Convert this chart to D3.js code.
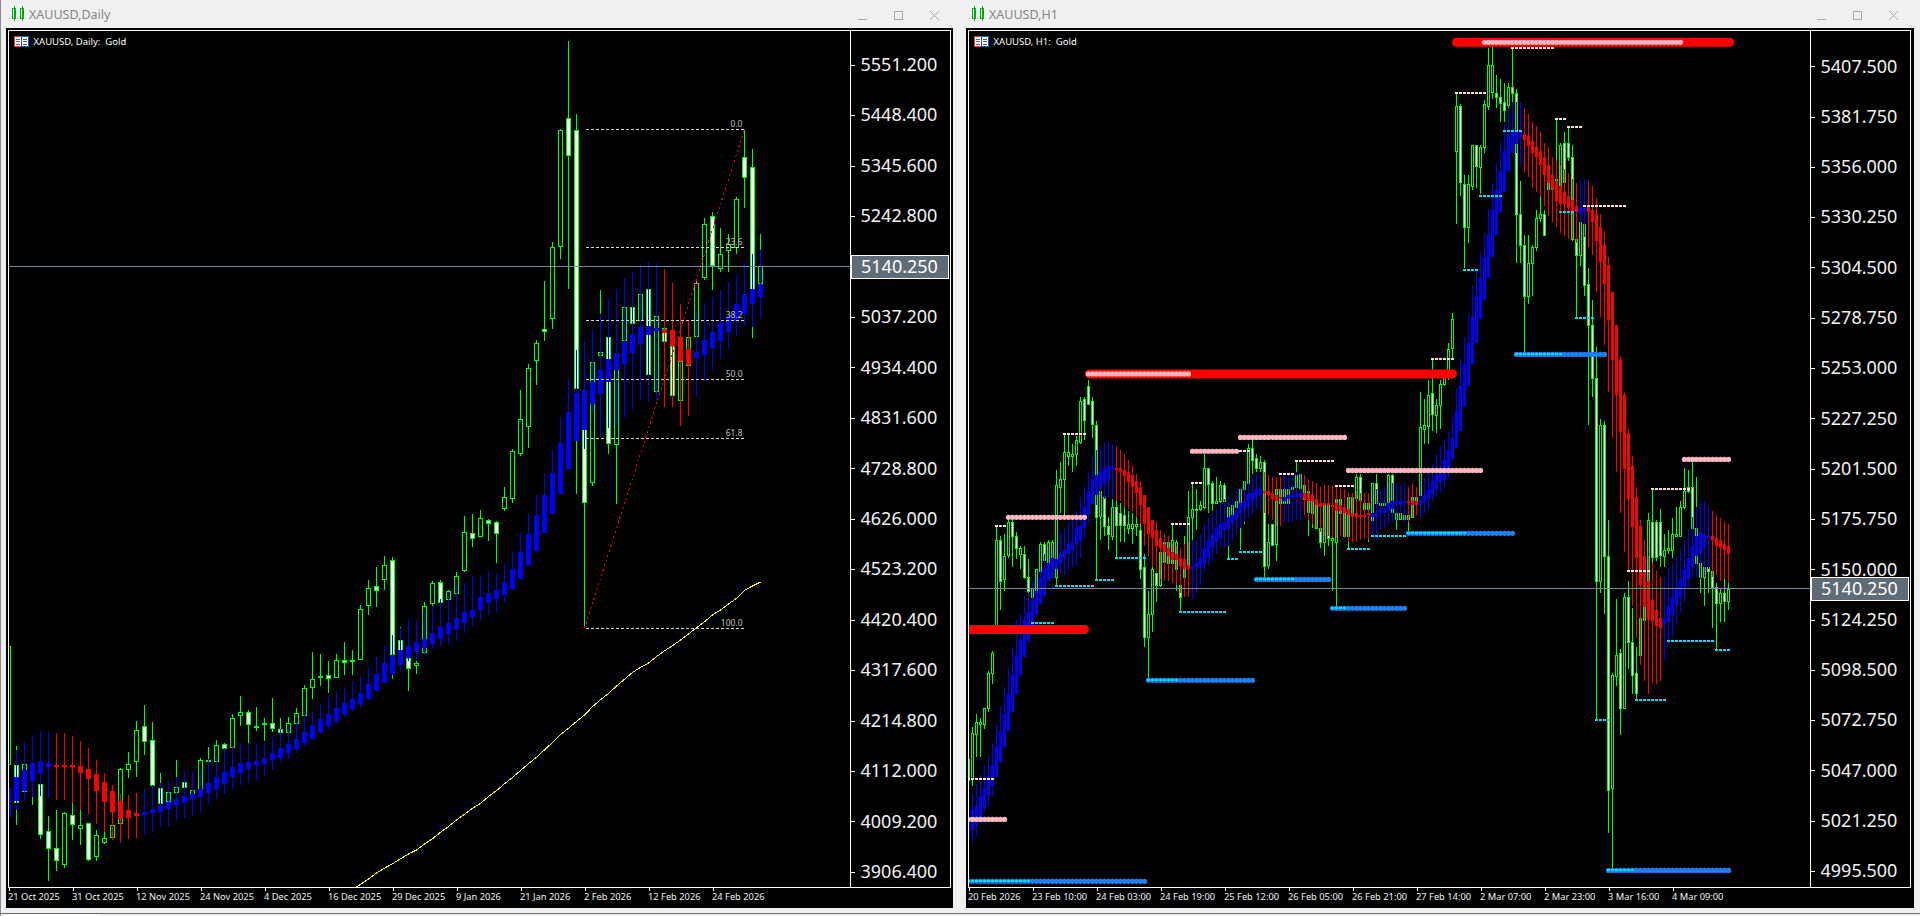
<!DOCTYPE html>
<html><head><meta charset="utf-8">
<script src="https://cdn.jsdelivr.net/npm/d3@7/dist/d3.min.js"></script>
<style>
html,body{margin:0;padding:0;background:#f0f0f0;overflow:hidden}
svg{display:block}
text{font-family:"Noto Sans",sans-serif;white-space:pre}
</style></head><body>
<svg id="c" width="1920" height="916"></svg>
<script>
// Each row: [open, high, low, close]
const dailyCandles=[[4126,4367,4126,4367],[4124,4163,4002,4048],[4072,4129,4068,4126],[4109,4129,4043,4095],[4085,4095,3973,3983],[3989,4021,3887,3955],[3956,4033,3909,3932],[3922,4029,3915,4026],[4022,4046,3972,4004],[3995,4033,3962,4002],
[4006,4007,3929,3932],[3938,3991,3929,3981],[3968,3988,3964,3976],[3978,4004,3972,4002],[4006,4119,3966,4116],[4117,4151,4097,4127],[4131,4214,4099,4195],[4203,4247,4145,4173],[4176,4212,4075,4085],[4077,4107,4044,4046],
[4050,4092,3999,4069],[4069,4135,4068,4079],[4089,4112,4075,4078],[4065,4078,4058,4073],[4075,4139,4068,4134],[4132,4161,4102,4134],[4133,4175,4129,4165],[4166,4169,4156,4158],[4160,4228,4156,4220],[4226,4265,4204,4233],
[4232,4237,4170,4207],[4203,4243,4194,4204],[4207,4220,4173,4209],[4209,4260,4192,4198],[4198,4220,4184,4191],[4190,4221,4189,4209],[4209,4240,4207,4230],[4227,4287,4223,4281],[4282,4355,4258,4299],[4303,4351,4285,4305],
[4308,4336,4270,4302],[4304,4350,4301,4338],[4339,4375,4307,4334],[4336,4359,4307,4338],[4341,4450,4340,4443],[4449,4501,4430,4484],[4488,4527,4447,4480],[4502,4550,4481,4531],[4541,4547,4300,4350],[4379,4406,4331,4338],
[4342,4345,4274,4321],[4327,4340,4310,4331],[4355,4456,4353,4449],[4453,4499,4438,4494],[4498,4501,4450,4457],[4461,4481,4447,4478],[4475,4517,4469,4509],[4520,4631,4518,4598],[4596,4636,4568,4585],[4591,4644,4589,4627],
[4623,4625,4581,4616],[4619,4621,4536,4596],[4648,4690,4642,4670],[4667,4768,4658,4763],[4760,4888,4754,4830],[4815,4941,4771,4934],[4951,4990,4898,4985],[5013,5110,4989,5008],[5034,5189,5013,5179],[5181,5419,5155,5417],
[5443,5599,5095,5368],[5417,5450,4676,4892],[4831,4834,4404,4659],[4702,4946,4693,4946],[4958,5092,4949,4965],[4996,5004,4758,4780],[4778,4956,4655,4949],[4989,5078,4970,5057],[5057,5072,5017,5024],[5031,5099,5010,5083],
[5095,5105,4915,4922],[4888,5044,4868,5040],[5015,5031,4983,4989],[4977,5004,4868,4878],[4868,4963,4864,4947],[4939,5004,4929,4996],[5000,5112,4963,5107],[5118,5238,5112,5226],[5243,5250,5092,5144],[5136,5218,5128,5165],
[5173,5206,5129,5185],[5180,5281,5165,5277],[5362,5417,5260,5321],[5343,5379,4995,5092],[5105,5206,5099,5140]];
const dailySmoothed=[[4019,4109,3993,4078],[4050,4154,4033,4099],[4072,4173,4050,4114],[4092,4186,4059,4128],[4108,4194,4061,4133],[4120,4192,4056,4128],[4124,4190,4053,4123],[4124,4190,4053,4123],[4124,4184,4046,4119],[4122,4173,4033,4108],
[4116,4159,4025,4095],[4106,4135,4005,4072],[4090,4107,3988,4050],[4072,4084,3972,4029],[4050,4065,3966,4014],[4033,4063,3974,4017],[4027,4067,3976,4021],[4023,4076,3982,4029],[4025,4083,3987,4034],[4029,4087,3997,4041],
[4035,4092,4000,4049],[4042,4100,4013,4055],[4047,4112,4017,4061],[4054,4110,4021,4065],[4059,4117,4029,4075],[4066,4136,4042,4087],[4075,4144,4054,4099],[4086,4158,4066,4110],[4099,4163,4076,4120],[4108,4167,4084,4128],
[4116,4170,4088,4131],[4123,4170,4092,4132],[4127,4170,4102,4139],[4133,4182,4115,4148],[4139,4197,4129,4159],[4149,4204,4137,4167],[4157,4214,4148,4177],[4168,4234,4160,4191],[4177,4234,4175,4206],[4190,4248,4187,4217],
[4204,4262,4197,4228],[4214,4273,4207,4240],[4226,4283,4221,4250],[4238,4296,4234,4258],[4247,4306,4241,4270],[4259,4324,4257,4289],[4274,4344,4272,4309],[4292,4367,4291,4332],[4310,4389,4308,4349],[4328,4404,4316,4359],
[4342,4421,4336,4367],[4355,4420,4336,4375],[4362,4435,4348,4381],[4371,4448,4360,4393],[4381,4462,4367,4405],[4392,4476,4368,4414],[4402,4492,4377,4424],[4412,4496,4393,4435],[4426,4509,4408,4440],[4440,4511,4420,4466],
[4453,4520,4429,4474],[4463,4515,4433,4481],[4471,4535,4457,4497],[4483,4560,4481,4523],[4502,4597,4501,4558],[4531,4636,4530,4595],[4560,4674,4559,4633],[4597,4717,4596,4674],[4636,4766,4636,4719],[4677,4833,4677,4780],
[4727,4910,4727,4844],[4784,4970,4784,4882],[4807,4987,4769,4888],[4860,5013,4841,4905],[4881,5044,4795,4929],[4905,5073,4810,4951],[4928,5093,4810,4963],[4943,5116,4834,4987],[4964,5129,4849,5002],[4982,5143,4868,5016],
[5000,5150,4864,5019],[5008,5146,4868,5015],[5013,5135,4854,5005],[5010,5107,4853,4978],[4996,5063,4815,4947],[4971,5031,4835,4939],[4954,5050,4877,4966],[4960,5066,4907,4990],[4974,5078,4926,5006],[4988,5091,4951,5024],
[5006,5109,4973,5038],[5027,5122,4998,5063],[5044,5146,5019,5084],[5064,5165,5017,5094],[5078,5173,5033,5105]];
// 200-day average, first value belongs to bar 43
const dailyAverageStart=43;
const dailyAverage=[3871,3881,3892,3904,3914,3923,3933,3943,3951,3963,3974,3987,3999,4012,4024,4036,4046,4060,4072,4086,4099,4113,4127,4140,4155,4170,4186,4199,4213,4226,4243,4257,4270,4285,4299,4313,4323,4332,4345,4357,4367,4379,4391,4404,4416,4430,4440,4452,4464,4480,4489,4497];
const fibLevels=[0,23.6,38.2,50,61.8,100];
const fibHigh=5419, fibLow=4403, fibBarLow=72, fibBarHigh=92;
const dailyPriceTicks=[5551.2,5448.4,5345.6,5242.8,5037.2,4934.4,4831.6,4728.8,4626,4523.2,4420.4,4317.6,4214.8,4112,4009.2,3906.4];
const dailyTimeLabels=["21 Oct 2025","31 Oct 2025","12 Nov 2025","24 Nov 2025","4 Dec 2025","16 Dec 2025","29 Dec 2025","9 Jan 2026","21 Jan 2026","2 Feb 2026","12 Feb 2026","24 Feb 2026"];
const hourlyPriceTicks=[5407.5,5381.75,5356,5330.25,5304.5,5278.75,5253,5227.25,5201.5,5175.75,5150,5124.25,5098.5,5072.75,5047,5021.25,4995.5];
const hourlyTimeLabels=["20 Feb 2026","23 Feb 10:00","24 Feb 03:00","24 Feb 19:00","25 Feb 12:00","26 Feb 05:00","26 Feb 21:00","27 Feb 14:00","2 Mar 07:00","2 Mar 23:00","3 Mar 16:00","4 Mar 09:00"];
const lastPrice=5140.25;
const hourlyCandles=[[5042,5053,5042,5053],[5043,5069,5039,5066],[5066,5076,5054,5072],[5071,5074,5054,5072],[5071,5079,5068,5079],[5079,5098,5077,5097],[5097,5108,5091,5107],[5121,5172,5121,5165],[5165,5167,5129,5144],[5145,5168,5139,5157],
[5157,5175,5156,5174],[5174,5176,5151,5167],[5167,5169,5155,5161],[5158,5162,5150,5161],[5158,5162,5145,5146],[5146,5155,5136,5139],[5136,5144,5136,5140],[5136,5150,5133,5150],[5149,5164,5148,5163],[5163,5164,5150,5155],
[5150,5165,5146,5164],[5151,5165,5146,5164],[5146,5201,5141,5193],[5192,5205,5179,5196],[5196,5219,5178,5210],[5208,5219,5203,5210],[5208,5214,5200,5209],[5209,5218,5203,5216],[5215,5238,5214,5236],[5237,5238,5216,5226],
[5244,5247,5234,5235],[5236,5238,5217,5224],[5224,5226,5145,5177],[5177,5200,5165,5190],[5187,5190,5167,5172],[5172,5177,5160,5168],[5167,5186,5165,5182],[5182,5185,5156,5173],[5179,5184,5164,5173],[5178,5183,5164,5173],
[5171,5180,5168,5173],[5171,5179,5163,5173],[5172,5179,5167,5173],[5170,5173,5145,5150],[5151,5158,5110,5115],[5115,5139,5094,5127],[5127,5151,5118,5150],[5148,5159,5133,5142],[5142,5164,5141,5159],[5154,5165,5153,5164],
[5153,5165,5153,5164],[5153,5173,5153,5165],[5150,5165,5139,5164],[5142,5148,5128,5136],[5146,5167,5145,5150],[5151,5190,5150,5177],[5177,5194,5163,5181],[5181,5191,5170,5181],[5181,5185,5180,5183],[5182,5209,5181,5202],
[5202,5202,5179,5194],[5194,5195,5180,5184],[5184,5197,5184,5185],[5185,5195,5172,5193],[5193,5194,5175,5185],[5175,5182,5155,5182],[5175,5184,5174,5183],[5182,5191,5172,5185],[5184,5191,5160,5191],[5191,5195,5173,5195],
[5194,5214,5193,5212],[5212,5217,5196,5206],[5207,5209,5200,5202],[5202,5208,5200,5205],[5205,5206,5146,5152],[5152,5173,5150,5164],[5173,5173,5162,5162],[5163,5197,5154,5191],[5184,5192,5182,5191],[5184,5193,5181,5191],
[5184,5192,5183,5191],[5191,5193,5190,5192],[5192,5205,5192,5198],[5192,5199,5192,5199],[5186,5194,5185,5193],[5179,5190,5167,5190],[5179,5187,5171,5186],[5171,5185,5171,5184],[5171,5184,5161,5164],[5164,5184,5157,5183],
[5183,5184,5162,5166],[5165,5184,5139,5166],[5164,5187,5131,5186],[5179,5187,5179,5186],[5167,5179,5166,5179],[5167,5187,5160,5187],[5179,5187,5175,5187],[5186,5199,5185,5197],[5197,5199,5177,5185],[5181,5185,5180,5184],
[5181,5185,5164,5184],[5175,5194,5174,5194],[5194,5199,5182,5184],[5184,5184,5182,5183],[5183,5185,5182,5184],[5184,5199,5183,5198],[5198,5199,5178,5179],[5176,5179,5170,5179],[5176,5179,5175,5179],[5176,5179,5175,5178],
[5176,5179,5169,5178],[5177,5188,5176,5187],[5185,5188,5185,5187],[5188,5241,5187,5223],[5222,5237,5214,5224],[5223,5247,5214,5239],[5240,5258,5221,5229],[5229,5237,5220,5234],[5234,5247,5222,5245],[5245,5252,5244,5252],
[5252,5266,5247,5263],[5263,5281,5257,5278],[5364,5394,5327,5387],[5387,5388,5341,5348],[5347,5352,5304,5325],[5325,5352,5317,5347],[5346,5367,5344,5367],[5367,5367,5345,5356],[5356,5367,5342,5366],[5366,5390,5363,5388],
[5387,5417,5385,5408],[5394,5418,5391,5408],[5394,5403,5386,5392],[5392,5401,5379,5389],[5389,5399,5379,5385],[5388,5399,5385,5397],[5397,5417,5382,5394],[5394,5396,5307,5332],[5332,5349,5307,5316],[5316,5321,5260,5290],
[5290,5321,5286,5307],[5307,5316,5290,5315],[5315,5334,5313,5330],[5330,5341,5328,5332],[5332,5334,5321,5321],[5345,5362,5344,5350],[5345,5351,5344,5350],[5339,5380,5338,5350],[5339,5368,5338,5367],[5368,5374,5346,5348],
[5368,5376,5359,5361],[5361,5367,5318,5319],[5319,5322,5279,5311],[5311,5329,5305,5328],[5327,5328,5290,5296],[5296,5304,5224,5275],[5275,5288,5238,5248],[5248,5264,5073,5144],[5144,5227,5138,5224],[5224,5226,5127,5157],
[5157,5175,5015,5037],[5038,5097,4997,5096],[5095,5135,5090,5106],[5107,5109,5065,5079],[5079,5138,5079,5136],[5136,5144,5099,5113],[5113,5130,5086,5096],[5097,5110,5083,5087],[5106,5126,5101,5125],[5124,5132,5124,5131],
[5131,5179,5130,5175],[5174,5191,5149,5156],[5174,5175,5154,5156],[5174,5181,5151,5157],[5157,5168,5151,5160],[5160,5170,5158,5161],[5160,5176,5156,5168],[5167,5182,5167,5168],[5167,5185,5167,5182],[5182,5202,5181,5190],
[5192,5201,5189,5190],[5192,5205,5170,5171],[5171,5197,5151,5153],[5153,5162,5138,5146],[5146,5162,5131,5151],[5151,5152,5138,5149],[5149,5153,5120,5141],[5141,5143,5109,5133],[5133,5140,5123,5138],[5138,5145,5123,5134],
[5134,5143,5129,5140]];
const hourlySmoothed=[[5013,5032,5008,5023],[5016,5035,5010,5027],[5019,5040,5013,5029],[5023,5045,5020,5034],[5028,5050,5025,5038],[5034,5055,5029,5044],[5039,5061,5034,5050],[5044,5071,5043,5059],[5051,5080,5051,5067],[5059,5089,5059,5076],
[5067,5100,5067,5086],[5077,5110,5077,5096],[5086,5124,5086,5106],[5096,5127,5096,5114],[5105,5136,5105,5124],[5113,5138,5113,5128],[5120,5144,5119,5134],[5127,5147,5126,5139],[5132,5151,5132,5146],[5136,5158,5136,5150],
[5144,5162,5144,5153],[5146,5163,5146,5156],[5150,5165,5146,5155],[5153,5169,5148,5158],[5156,5171,5147,5160],[5158,5174,5150,5163],[5160,5175,5151,5164],[5163,5180,5152,5171],[5165,5187,5156,5172],[5171,5193,5166,5182],
[5178,5200,5174,5190],[5183,5208,5183,5196],[5188,5211,5183,5198],[5192,5213,5186,5200],[5194,5215,5186,5202],[5196,5215,5187,5203],[5201,5214,5187,5203],[5202,5213,5185,5201],[5202,5211,5185,5200],[5201,5209,5182,5198],
[5200,5206,5181,5195],[5198,5203,5180,5192],[5195,5199,5177,5189],[5192,5195,5173,5183],[5188,5188,5162,5173],[5182,5182,5157,5168],[5175,5175,5151,5166],[5170,5174,5148,5162],[5166,5170,5145,5161],[5163,5168,5144,5159],
[5161,5167,5144,5157],[5159,5163,5143,5155],[5158,5162,5142,5155],[5156,5161,5138,5152],[5155,5163,5136,5150],[5152,5164,5136,5150],[5150,5165,5135,5151],[5151,5165,5138,5153],[5151,5168,5142,5156],[5153,5173,5149,5161],
[5156,5177,5152,5165],[5161,5179,5154,5168],[5164,5181,5158,5171],[5166,5184,5161,5173],[5170,5186,5161,5174],[5171,5187,5162,5177],[5174,5186,5165,5178],[5176,5191,5168,5180],[5179,5192,5171,5184],[5181,5195,5174,5185],
[5182,5195,5176,5189],[5185,5199,5179,5189],[5187,5199,5181,5191],[5188,5199,5180,5191],[5190,5200,5179,5189],[5190,5198,5178,5188],[5189,5197,5175,5186],[5188,5197,5172,5185],[5187,5197,5172,5186],[5185,5198,5174,5187],
[5186,5198,5174,5188],[5187,5198,5174,5188],[5187,5200,5175,5189],[5187,5199,5175,5189],[5189,5198,5178,5186],[5189,5196,5175,5185],[5188,5195,5173,5185],[5186,5194,5171,5183],[5184,5192,5169,5182],[5184,5193,5167,5183],
[5184,5193,5167,5183],[5183,5193,5166,5182],[5184,5192,5166,5180],[5183,5191,5167,5180],[5182,5191,5166,5179],[5181,5189,5164,5178],[5179,5189,5164,5177],[5179,5190,5164,5177],[5178,5189,5165,5177],[5178,5189,5166,5177],
[5179,5189,5165,5178],[5177,5190,5166,5179],[5177,5191,5165,5179],[5179,5191,5170,5181],[5179,5192,5171,5181],[5180,5194,5173,5184],[5181,5194,5174,5185],[5184,5194,5175,5185],[5183,5193,5176,5185],[5184,5194,5174,5185],
[5185,5192,5174,5184],[5185,5194,5177,5183],[5185,5192,5178,5183],[5183,5195,5176,5185],[5184,5197,5179,5188],[5186,5201,5181,5191],[5188,5204,5185,5195],[5191,5209,5187,5198],[5195,5213,5189,5202],[5196,5216,5192,5206],
[5202,5221,5196,5211],[5206,5228,5206,5217],[5212,5243,5212,5231],[5221,5258,5221,5244],[5233,5269,5233,5255],[5244,5281,5244,5266],[5255,5295,5255,5279],[5266,5303,5266,5290],[5278,5312,5278,5299],[5288,5322,5288,5310],
[5299,5334,5299,5321],[5310,5347,5310,5334],[5321,5358,5321,5344],[5333,5369,5333,5354],[5343,5378,5343,5364],[5354,5386,5354,5372],[5363,5389,5363,5374],[5368,5389,5363,5374],[5371,5389,5356,5374],[5373,5386,5353,5370],
[5372,5383,5351,5367],[5369,5379,5345,5363],[5366,5377,5343,5361],[5364,5374,5341,5357],[5361,5368,5336,5352],[5357,5366,5331,5348],[5352,5361,5328,5345],[5349,5359,5325,5339],[5346,5357,5322,5337],[5343,5355,5320,5337],
[5341,5353,5319,5335],[5339,5350,5319,5333],[5336,5348,5317,5333],[5332,5349,5318,5335],[5333,5350,5320,5335],[5336,5349,5315,5333],[5334,5346,5311,5328],[5332,5340,5292,5318],[5325,5332,5279,5307],[5316,5323,5265,5296],
[5306,5310,5241,5278],[5292,5292,5217,5257],[5275,5275,5200,5239],[5257,5259,5179,5220],[5239,5240,5159,5201],[5220,5222,5149,5186],[5203,5208,5131,5172],[5187,5192,5115,5156],[5172,5175,5101,5142],[5157,5165,5093,5131],
[5144,5157,5086,5124],[5134,5153,5092,5123],[5129,5149,5091,5121],[5125,5146,5093,5120],[5122,5146,5103,5125],[5123,5150,5111,5131],[5127,5153,5116,5136],[5132,5157,5122,5141],[5136,5161,5128,5145],[5141,5165,5133,5150],
[5145,5170,5141,5156],[5151,5177,5146,5162],[5157,5182,5146,5167],[5158,5185,5145,5169],[5161,5185,5146,5168],[5166,5182,5150,5167],[5167,5180,5146,5165],[5166,5178,5147,5162],[5165,5176,5144,5161],[5163,5174,5145,5160],
[5162,5173,5143,5158]];
// Levels: [price, first bar, last bar]
const majorResistance=[[5250,30.25,121],[5119.2,-2,29],[5419.8,122,190.25]];
const resistanceDots=[[5250,30,55],[5176.6,10,29],[5210.4,56,67],[5217.5,68,94],[5200.6,95,128],[5419.8,129,178],[5206.2,179,190],[5021.9,0,9]];
const supportDots=[[4990.2,0,44],[5093.1,45,71],[5144.8,72,90],[5130,91,109],[5168.4,110,136],[5260,137,159],[4995.8,160,190]];
const swingHighs=[[5172,7,9],[5219,24,29],[5173,51,55],[5194,56,58],[5210.6,68,70],[5198.8,78,81],[5205.4,82,91],[5192.6,92,96],[5257.6,116,121],[5394,122,129],[5417,136,146],[5380.5,147,149],[5376.4,150,153],[5336,154,164],[5042.6,0,6],[5149,165,170],[5191,171,180]];
const swingLows=[[5141.4,22,31],[5144.5,32,36],[5155.8,37,44],[5122.5,16,21],[5128,53,64],[5155.2,65,67],[5158.8,68,73],[5160.4,95,100],[5167,101,109],[5303.3,124,127],[5341,128,133],[5374.4,134,138],[5278.8,152,156],[5332.9,148,151],[5072.8,157,160],[5083,167,174],[5113.4,175,186],[5108.6,187,190],
[4990.2,0,15],[5093.1,45,52],[5144.8,72,81],[5130,91,94],[5168.4,110,124],[5260,137,148],[4995.8,160,166]];

const svg=d3.select('#c');
const defs=svg.append('defs');

function chrome(o){
  const g=svg.append('g');
  g.append('rect').attr('x',o.left).attr('y',28).attr('width',o.right-o.left).attr('height',880).attr('fill','#000');
  const ic=g.append('g').attr('stroke','#00b000').attr('fill','none').attr('shape-rendering','crispEdges');
  [0,8].forEach(dx=>{
    ic.append('rect').attr('x',o.left+6.5+dx).attr('y',8.5).attr('width',3).attr('height',10);
    ic.append('line').attr('x1',o.left+8.5+dx).attr('x2',o.left+8.5+dx).attr('y1',6).attr('y2',21);
  });
  g.append('text').attr('x',o.left+23).attr('y',19).attr('font-size',12.5).attr('fill','#858585').text(o.title);
  const b=g.append('g').attr('stroke','#a8a8a8').attr('fill','none').attr('shape-rendering','crispEdges');
  b.append('line').attr('x1',o.btn).attr('x2',o.btn+9).attr('y1',19.5).attr('y2',19.5);
  b.append('rect').attr('x',o.btn+36.5).attr('y',11.5).attr('width',8).attr('height',8);
  b.append('path').attr('d',`M${o.btn+72} 11L${o.btn+81} 20M${o.btn+81} 11L${o.btn+72} 20`).attr('shape-rendering','auto');
}

function panel(o){
  const id=o.id;
  defs.append('clipPath').attr('id',id).append('rect').attr('x',o.x0).attr('y',o.y0).attr('width',o.x1-o.x0).attr('height',o.y1-o.y0);
  const n=o.candles.length;
  const x=d3.scaleLinear().domain([0,n-1]).range([o.xFirst,o.xFirst+(n-1)*o.step]);
  const y=d3.scaleLinear().domain(o.priceDomain).range(o.yRange);
  const snap=v=>Math.round(v)+0.5;
  const plot=svg.append('g').attr('clip-path',`url(#${id})`);
  const gp=plot.append('g').attr('shape-rendering','crispEdges');
  gp.append('g').attr('stroke','#00ff00').selectAll('line').data(o.candles).join('line')
    .attr('x1',(d,i)=>x(i)).attr('x2',(d,i)=>x(i)).attr('y1',d=>Math.round(y(d[1]))).attr('y2',d=>Math.round(y(d[2])));
  gp.append('g').attr('stroke','#00ff00').selectAll('rect').data(o.candles).join('rect')
    .attr('x',(d,i)=>x(i)-o.half).attr('width',2*o.half)
    .attr('y',d=>snap(y(Math.max(d[0],d[3]))))
    .attr('height',d=>Math.max(1,Math.round(Math.abs(y(d[0])-y(d[3])))))
    .attr('fill',d=>d[3]>=d[0]?'#000':'#fff');
  const col=d=>d[3]>=d[0]?'#0000ff':'#ff0000';
  gp.append('g').selectAll('line').data(o.smoothed).join('line')
    .attr('stroke',col).attr('x1',(d,i)=>x(i)).attr('x2',(d,i)=>x(i)).attr('y1',d=>Math.round(y(d[1]))).attr('y2',d=>Math.round(y(d[2])));
  gp.append('g').selectAll('rect').data(o.smoothed).join('rect')
    .attr('fill',col).attr('x',(d,i)=>x(i)-o.half-0.5).attr('width',2*o.half+1)
    .attr('y',d=>Math.round(y(Math.max(d[0],d[3]))))
    .attr('height',d=>Math.max(2,Math.round(Math.abs(y(d[0])-y(d[3])))));
  if(o.extra) o.extra(plot,x,y);
  plot.append('line').attr('x1',o.x0).attr('x2',o.x1).attr('y1',snap(y(lastPrice))).attr('y2',snap(y(lastPrice)))
    .attr('stroke','#778899').attr('shape-rendering','crispEdges');
  const f=svg.append('g').attr('stroke','#fff').attr('fill','none').attr('shape-rendering','crispEdges');
  f.append('rect').attr('x',o.x0-0.5).attr('y',o.y0-0.5).attr('width',o.frameRight-o.x0+0.5).attr('height',o.y1-o.y0+0.5);
  f.append('line').attr('x1',o.x1+0.5).attr('x2',o.x1+0.5).attr('y1',o.y0).attr('y2',o.y1);
  const ya=svg.append('g').attr('transform',`translate(${o.x1+0.5},0)`)
    .call(d3.axisRight(y).tickValues(o.priceTicks).tickFormat(d3.format('.3f')).tickSize(4).tickPadding(6));
  ya.select('.domain').remove();
  ya.selectAll('line').attr('stroke','#fff').attr('shape-rendering','crispEdges');
  ya.selectAll('text').attr('fill','#f2f2f2').attr('font-size',18).attr('font-family','"Noto Sans",sans-serif');
  const xa=svg.append('g').attr('transform',`translate(0,${o.y1})`)
    .call(d3.axisBottom(x).tickValues(o.timeLabels.map((d,i)=>i*o.tickEvery)).tickFormat((d,i)=>o.timeLabels[i]).tickSize(4).tickPadding(2));
  xa.select('.domain').remove();
  xa.selectAll('line').attr('stroke','#fff').attr('shape-rendering','crispEdges');
  xa.selectAll('text').attr('fill','#f2f2f2').attr('font-size',9.3).attr('text-anchor','start').attr('dx',-1).attr('font-family','"Noto Sans",sans-serif');
  const yl=snap(y(lastPrice));
  svg.append('rect').attr('x',o.x1+1.5).attr('y',yl-11.5).attr('width',o.frameRight-o.x1-3).attr('height',23)
    .attr('fill','#5f6b76').attr('stroke','#fff').attr('shape-rendering','crispEdges');
  svg.append('text').attr('x',o.x1+11).attr('y',yl+6.5).attr('fill','#fff').attr('font-size',18).text(d3.format('.3f')(lastPrice));
  const ix=o.x0+5, iy=36;
  const ic=svg.append('g').attr('shape-rendering','crispEdges');
  ic.append('rect').attr('x',ix).attr('y',iy).attr('width',14).attr('height',10).attr('fill','#fff');
  ic.append('rect').attr('x',ix+0.5).attr('y',iy+0.5).attr('width',6.5).attr('height',9.5).attr('fill','none').attr('stroke','#e53935');
  ic.append('rect').attr('x',ix+7.5).attr('y',iy+0.5).attr('width',6.5).attr('height',9.5).attr('fill','none').attr('stroke','#0d60c0');
  [3,5.5,8].forEach(dy=>{
    ic.append('line').attr('x1',ix+2).attr('x2',ix+6).attr('y1',iy+dy).attr('y2',iy+dy).attr('stroke','#e53935');
    ic.append('line').attr('x1',ix+9).attr('x2',ix+13).attr('y1',iy+dy).attr('y2',iy+dy).attr('stroke','#0d60c0');
  });
  svg.append('text').attr('x',o.x0+24.5).attr('y',45).attr('fill','#fff').attr('font-size',9.5).text(o.header);
}

chrome({left:6,right:953,title:'XAUUSD,Daily',btn:858});
chrome({left:966,right:1914,title:'XAUUSD,H1',btn:1817});
svg.append('line').attr('x1',0.5).attr('x2',0.5).attr('y1',0).attr('y2',916).attr('stroke','#8a8a8a');
svg.append('line').attr('x1',0).attr('x2',1920).attr('y1',913.5).attr('y2',913.5).attr('stroke','#6a6a6a');
svg.append('rect').attr('x',5).attr('y',914).attr('width',95).attr('height',2).attr('fill','#fff');

panel({id:'pd',x0:9,x1:850,y0:31,y1:887,frameRight:950,xFirst:8.5,step:8,half:2,
  candles:dailyCandles,smoothed:dailySmoothed,priceDomain:[5551.2,3906.4],yRange:[64.6,871.9],
  priceTicks:dailyPriceTicks,timeLabels:dailyTimeLabels,tickEvery:8,header:'XAUUSD, Daily:  Gold',
  extra(plot,x,y){
    const line=d3.line().x(d=>x(d[0])).y(d=>y(d[1]));
    plot.append('path').attr('fill','none').attr('stroke','#ffff00').attr('shape-rendering','crispEdges')
      .attr('d',line(dailyAverage.map((v,i)=>[dailyAverageStart+i,v])));
    const fy=l=>Math.round(y(fibHigh-(fibHigh-fibLow)*l/100))+0.5;
    const fg=plot.append('g');
    fg.selectAll('line').data(fibLevels).join('line').attr('x1',x(fibBarLow)+1).attr('x2',x(fibBarHigh)+1)
      .attr('y1',fy).attr('y2',fy).attr('stroke','#d8d8d8').attr('stroke-dasharray','3 2').attr('shape-rendering','crispEdges');
    fg.selectAll('text').data(fibLevels).join('text').attr('x',x(fibBarHigh)-2).attr('y',d=>fy(d)-3)
      .attr('text-anchor','end').attr('font-size',8.5).attr('fill','#c0c0c0').text(d=>d.toFixed(1));
    plot.append('line').attr('x1',x(fibBarLow)).attr('x2',x(fibBarHigh)).attr('y1',y(fibLow)).attr('y2',y(fibHigh))
      .attr('stroke','#ff0000').attr('stroke-dasharray','2 3').attr('shape-rendering','crispEdges');
  }});

panel({id:'ph',x0:969,x1:1810,y0:31,y1:887,frameRight:1910,xFirst:968.5,step:4,half:1,
  candles:hourlyCandles,smoothed:hourlySmoothed,priceDomain:[5407.5,4995.5],yRange:[66.3,871],
  priceTicks:hourlyPriceTicks,timeLabels:hourlyTimeLabels,tickEvery:16,header:'XAUUSD, H1:  Gold',
  extra(plot,x,y){
    plot.append('g').selectAll('line').data(majorResistance).join('line')
      .attr('x1',d=>x(d[1])).attr('x2',d=>x(d[2])).attr('y1',d=>y(d[0])).attr('y2',d=>y(d[0]))
      .attr('stroke','#ff0000').attr('stroke-width',9).attr('stroke-linecap','round');
    const dots=(rows)=>rows.flatMap(r=>d3.range(r[1],r[2]+1).map(k=>[k,r[0]]));
    plot.append('g').selectAll('circle').data(dots(resistanceDots)).join('circle')
      .attr('cx',d=>x(d[0])).attr('cy',d=>y(d[1])).attr('r',2.6).attr('fill','#ffb6c1');
    plot.append('g').selectAll('circle').data(dots(supportDots)).join('circle')
      .attr('cx',d=>x(d[0])).attr('cy',d=>y(d[1])).attr('r',2.6).attr('fill','#1e80f0');
    const thin=plot.append('g').attr('shape-rendering','crispEdges');
    thin.append('g').selectAll('rect').data(dots(swingHighs)).join('rect')
      .attr('x',d=>x(d[0])-1.5).attr('width',3).attr('y',d=>Math.round(y(d[1]))-1).attr('height',2).attr('fill','#ffe0d8');
    thin.append('g').selectAll('rect').data(dots(swingLows)).join('rect')
      .attr('x',d=>x(d[0])-1.5).attr('width',3).attr('y',d=>Math.round(y(d[1]))-1).attr('height',2).attr('fill','#00e0f0');
  }});
</script>
</body></html>
